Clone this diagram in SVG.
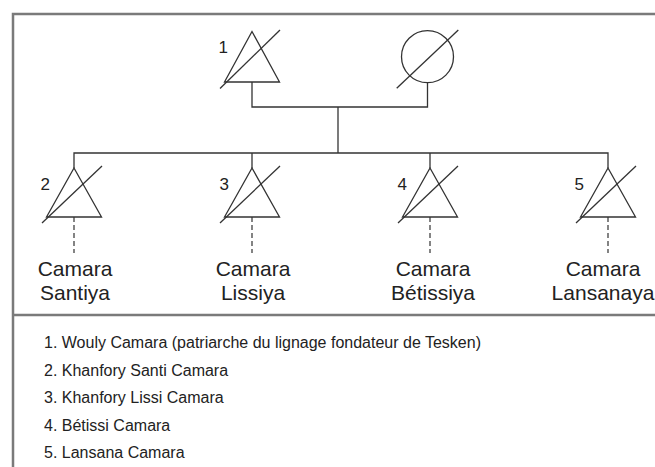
<svg xmlns="http://www.w3.org/2000/svg" width="655" height="467" viewBox="0 0 655 467">
<style>
.frame{fill:none;stroke:#7a7a7a;stroke-width:2.5}
.sym{fill:#fff;stroke:#333;stroke-width:1.3}
.slash{fill:none;stroke:#333;stroke-width:1.3}
.conn{fill:none;stroke:#333;stroke-width:1.3}
.dash{fill:none;stroke:#333;stroke-width:1.2;stroke-dasharray:5 3}
.num{font-family:"Liberation Sans",Arial,sans-serif;font-size:17px;fill:#222;text-anchor:end}
.lbl{font-family:"Liberation Sans",Arial,sans-serif;font-size:21px;fill:#222;text-anchor:middle}
.leg{font-family:"Liberation Sans",Arial,sans-serif;font-size:16px;fill:#222}
</style>
<rect width="655" height="467" fill="#fff"/>
<g id="frame">
<path class="frame" d="M13 467V14H655M13 315H655"/>
</g>
<g id="connectors">
<path class="conn" d="M252 82V107H427.5V83"/>
<path class="conn" d="M338 107V153"/>
<path class="conn" d="M74 168V153H608V168"/>
<path class="conn" d="M252 153V168M430 153V168"/>
<path class="dash" d="M74 217V253M252 217V253M430 217V253M608 217V253"/>
</g>
<g id="p1">
<polygon class="sym" points="252,31.5 224.5,82 279.5,82"/>
<line class="slash" x1="220" y1="88.5" x2="280" y2="30"/>
<text class="num" x="228" y="53">1</text>
</g>
<g id="wife">
<circle class="sym" cx="427.5" cy="56.7" r="26"/>
<line class="slash" x1="396.7" y1="88.3" x2="458.3" y2="30"/>
</g>
<g id="p2">
<polygon class="sym" points="74,168 46.5,217 101.5,217"/>
<line class="slash" x1="42" y1="223" x2="102" y2="166"/>
<text class="num" x="50" y="190">2</text>
<text class="lbl" x="75" y="276">Camara</text>
<text class="lbl" x="75" y="300">Santiya</text>
</g>
<g id="p3">
<polygon class="sym" points="252,168 224.5,217 279.5,217"/>
<line class="slash" x1="220" y1="223" x2="280" y2="166"/>
<text class="num" x="229" y="190">3</text>
<text class="lbl" x="253" y="276">Camara</text>
<text class="lbl" x="253" y="300">Lissiya</text>
</g>
<g id="p4">
<polygon class="sym" points="430,168 402.5,217 457.5,217"/>
<line class="slash" x1="398" y1="223" x2="458" y2="166"/>
<text class="num" x="407" y="190">4</text>
<text class="lbl" x="433" y="276">Camara</text>
<text class="lbl" x="433" y="300">Bétissiya</text>
</g>
<g id="p5">
<polygon class="sym" points="608,168 580.5,217 635.5,217"/>
<line class="slash" x1="576" y1="223" x2="636" y2="166"/>
<text class="num" x="584" y="190">5</text>
<text class="lbl" x="603" y="276">Camara</text>
<text class="lbl" x="603" y="300">Lansanaya</text>
</g>
<g id="legend">
<text class="leg" x="44" y="348">1. Wouly Camara (patriarche du lignage fondateur de Tesken)</text>
<text class="leg" x="44" y="375.5">2. Khanfory Santi Camara</text>
<text class="leg" x="44" y="403">3. Khanfory Lissi Camara</text>
<text class="leg" x="44" y="430.5">4. Bétissi Camara</text>
<text class="leg" x="44" y="458">5. Lansana Camara</text>
</g>
</svg>
